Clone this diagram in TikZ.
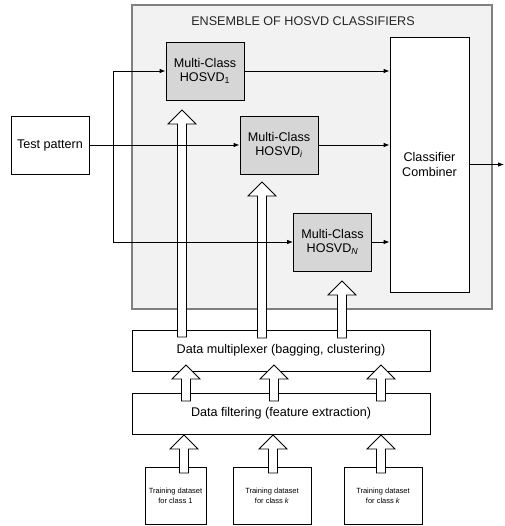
\documentclass[tikz,border=0pt]{standalone}
\usepackage{fontspec}
\setmainfont{Liberation Sans}
\usetikzlibrary{arrows.meta,calc}
\definecolor{ensfill}{HTML}{F2F2F2}
\definecolor{ensline}{HTML}{808080}
\definecolor{hosvdfill}{HTML}{D6D6D6}
\newcommand\fatarrow[2]{%
  \draw[fat] let \p1=(#1), \p2=(#2) in
    (\x1-4.5pt,\y1) -- (\x1-4.5pt,\y2-14pt) -- (\x1-14pt,\y2-14pt) -- (\x2,\y2)
    -- (\x1+14pt,\y2-14pt) -- (\x1+4.5pt,\y2-14pt) -- (\x1+4.5pt,\y1) -- cycle;}

\begin{document}
\begin{tikzpicture}[x=1pt,y=-1pt,
    box/.style={draw,line width=0.8pt,inner sep=0pt,align=center,font=\fontsize{12.6}{14.5}\selectfont},
    hosvd/.style={box,fill=hosvdfill,minimum width=78pt,minimum height=58pt},
    trainbox/.style={box,fill=white,minimum height=57pt,font=\fontsize{7.5}{10}\selectfont},
    fat/.style={draw,fill=white,line width=0.8pt},
    link/.style={line width=0.8pt,-{Latex[length=6pt,width=4.5pt]}}]
    \useasboundingbox (0,0) rectangle (504,526);
    % ensemble frame
    \node (ens) at (312,157) [draw=ensline,fill=ensfill,line width=1.2pt,minimum width=360pt,minimum height=304pt] {};
    \node (title) at (303,21) [font=\fontsize{12.6}{14.5}\selectfont,text=black!85] {ENSEMBLE OF HOSVD CLASSIFIERS};
    % boxes
    \node (tp) at (50,145) [box,fill=white,minimum width=78pt,minimum height=58pt] {Test pattern};
    \node (h1) at (205,71) [hosvd] {Multi-Class\\HOSVD\textsubscript{1}};
    \node (hi) at (279,145) [hosvd] {Multi-Class\\HOSVD\textsubscript{\itshape i}};
    \node (hN) at (332.5,242) [hosvd] {Multi-Class\\HOSVD\textsubscript{\itshape N}};
    \node (comb) at (429.5,164.5) [box,fill=white,minimum width=79pt,minimum height=255pt] {Classifier\\Combiner};
    \node (mux) at (281,350.5) [box,fill=white,minimum width=298pt,minimum height=41pt] {Data multiplexer (bagging, clustering)};
    \node (filt) at (281,413.5) [box,fill=white,minimum width=298pt,minimum height=41pt] {Data filtering (feature extraction)};
    \node (tr1) at (175.5,495.5) [trainbox,minimum width=61pt] {Training dataset\\for class 1};
    \node (tr2) at (272,495.5) [trainbox,minimum width=78pt] {Training dataset\\for class \textit{k}};
    \node (tr3) at (383,495.5) [trainbox,minimum width=78pt] {Training dataset\\for class \textit{k}};
    % hollow data arrows
    \foreach \k/\ax/\ab/\at in {1/182/337/110, 2/262/338/182, 3/342/338/281,
                                4/186/401/365, 5/274/401/365, 6/381/401/365,
                                7/184/473/435, 8/273/473/435, 9/381/473/435} {
        \coordinate (fb\k) at (\ax,\ab);
        \coordinate (ft\k) at (\ax,\at);
        \fatarrow{fb\k}{ft\k}
    }
    % test pattern to classifiers
    \coordinate (split) at (113,145);
    \coordinate (out) at (504,164.5);
    \draw[link] (tp.east) -- (hi.west);
    \draw[link] (split) |- (h1.west);
    \draw[link] (split) |- (hN.west);
    \draw[link] (h1.east) -- (h1.east -| comb.west);
    \draw[link] (hi.east) -- (hi.east -| comb.west);
    \draw[link] (hN.east) -- (hN.east -| comb.west);
    \draw[link] (comb.east) -- (out);
\end{tikzpicture}
\end{document}
